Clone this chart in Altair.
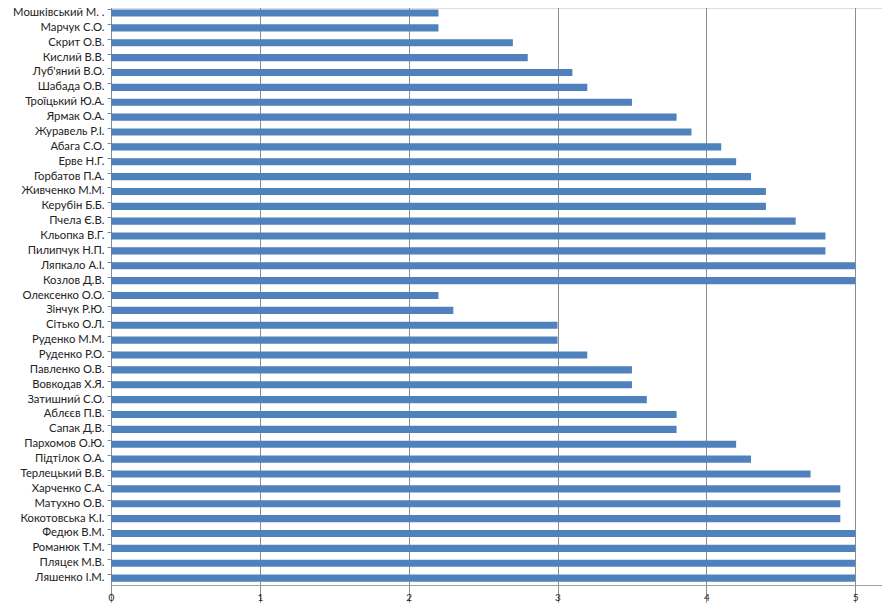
import altair as alt
import pandas as pd

names = [
    "Кох Г.Н.",
    "Мошківський М. .",
    "Марчук С.О.",
    "Скрит О.В.",
    "Кислий В.В.",
    "Луб'яний В.О.",
    "Шабада О.В.",
    "Троїцький  Ю.А.",
    "Ярмак О.А.",
    "Журавель Р.І.",
    "Абага С.О.",
    "Ерве  Н.Г.",
    "Горбатов П.А.",
    "Живченко  М.М.",
    "Керубін Б.Б.",
    "Пчела Є.В.",
    "Кльопка В.Г.",
    "Пилипчук  Н.П.",
    "Ляпкало А.І.",
    "Козлов Д.В.",
    "Олексенко О.О.",
    "Зінчук Р.Ю.",
    "Сітько О.Л.",
    "Руденко М.М.",
    "Руденко Р.О.",
    "Павленко О.В.",
    "Вовкодав Х.Я.",
    "Затишний С.О.",
    "Аблєєв П.В.",
    "Сапак Д.В.",
    "Пархомов О.Ю.",
    "Підтілок О.А.",
    "Терлецький  В.В.",
    "Харченко С.А.",
    "Матухно О.В.",
    "Кокотовська  К.І.",
    "Федюк  В.М.",
    "Романюк Т.М.",
    "Пляцек М.В.",
    "Ляшенко  І.М.",
]

scores = [
    5.0, 2.2, 2.2, 2.7, 2.8, 3.1, 3.2, 3.5, 3.8, 3.9,
    4.1, 4.2, 4.3, 4.4, 4.4, 4.6, 4.8, 4.8, 5.0, 5.0,
    2.2, 2.3, 3.0, 3.0, 3.2, 3.5, 3.5, 3.6, 3.8, 3.8,
    4.2, 4.3, 4.7, 4.9, 4.9, 4.9, 5.0, 5.0, 5.0, 5.0,
]

x_ticks = [0, 1, 2, 3, 4, 5]

df = pd.DataFrame({"name": names, "score": scores})

FONT = "Lato"

chart = (
    alt.Chart(df)
    .mark_bar(color="#4f81bd", clip=False)
    .encode(
        x=alt.X(
            "score:Q",
            scale=alt.Scale(domain=[0, 5.18], nice=False, zero=True),
            axis=alt.Axis(
                values=x_ticks,
                title=None,
                grid=True,
                gridColor="#8c8c8c",
                gridWidth=1,
                domainColor="#a0a0a0",
                tickColor="#8c8c8c",
                tickSize=4,
                labelPadding=3,
                labelFontSize=10,
                labelFont=FONT,
                labelColor="#222222",
                labelFlush=False,
                format="d",
            ),
        ),
        y=alt.Y(
            "name:N",
            sort=names,
            scale=alt.Scale(range=[-17.3, 577.5], paddingInner=0.52, paddingOuter=0.26),
            axis=alt.Axis(
                title=None,
                grid=False,
                domainColor="#8c8c8c",
                tickColor="#8c8c8c",
                tickSize=4,
                bandPosition=0,
                labelPadding=3,
                labelFontSize=11.3,
                labelFont=FONT,
                labelColor="#222222",
                labelLimit=300,
            ),
        ),
    )
    .properties(
        width=771,
        height=577,
        autosize=alt.AutoSizeParams(type="none"),
        padding={"left": 103, "top": 0, "right": 0, "bottom": 19},
    )
    .configure_view(stroke=None)
    .configure(background="white")
)

chart.save("out.html", embed_options={"renderer": "svg", "actions": False})
